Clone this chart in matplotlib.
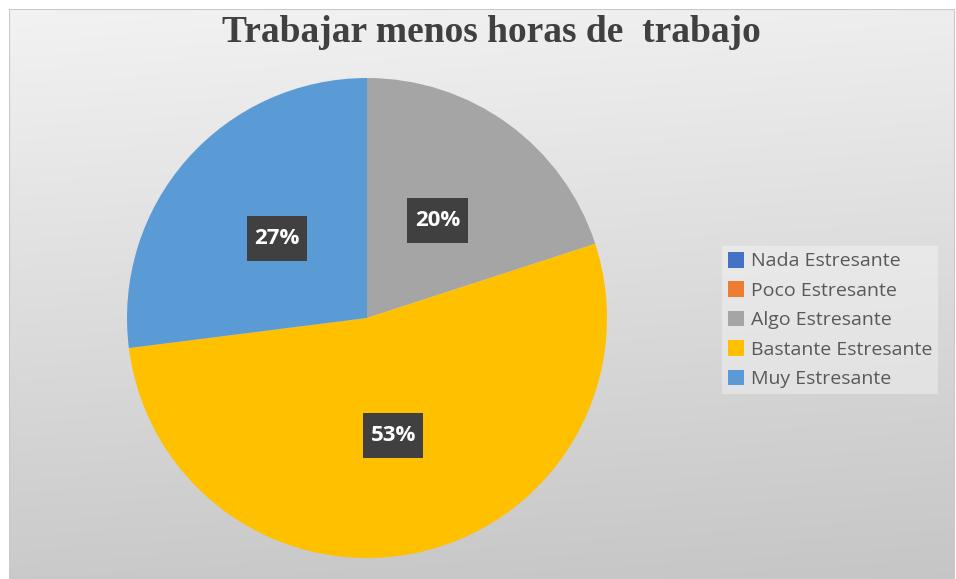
import numpy as np
import matplotlib
matplotlib.use("Agg")
import matplotlib.pyplot as plt
from matplotlib.patches import Rectangle, Patch

title = "Trabajar menos horas de  trabajo"
categories = ["Nada Estresante", "Poco Estresante", "Algo Estresante",
              "Bastante Estresante", "Muy Estresante"]
values = [0, 0, 20, 53, 27]
colors = ["#4472C4", "#ED7D31", "#A5A5A5", "#FFC000", "#5B9BD5"]

W, H = 956, 579
fig = plt.figure(figsize=(W / 100, H / 100), dpi=100)
fig.patch.set_facecolor("white")

# background with gradient
bg = fig.add_axes([9 / W, 0, 946 / W, 570 / H])
bg.set_axis_off()
ny, nx = 200, 300
yy, xx = np.mgrid[0:1:ny * 1j, 0:1:nx * 1j]
t = 0.9 * yy + 0.1 * xx
top = np.array([0.95, 0.95, 0.95])
bot = np.array([0.775, 0.775, 0.775])
img = top[None, None, :] * (1 - t[..., None]) + bot[None, None, :] * t[..., None]
bg.imshow(img, aspect="auto", extent=[0, 1, 0, 1], origin="upper")
bg.set_xlim(0, 1)
bg.set_ylim(0, 1)
bg.add_patch(Rectangle((0, 0), 1, 1, transform=bg.transAxes, fill=False,
                       edgecolor="#c8c8c8", linewidth=1.5))

# pie
ax = fig.add_axes([127 / W, 21 / H, 480 / W, 480 / H])
ax.set_axis_off()
wedges, texts, autotexts = ax.pie(
    values, colors=colors, startangle=90, counterclock=False,
    autopct=lambda p: f"{p:.0f}%" if p > 0.5 else "",
    pctdistance=0.5, radius=1.0,
    wedgeprops=dict(linewidth=0),
)
ax.set_xlim(-1, 1)
ax.set_ylim(-1, 1)
ax.set_aspect("equal")
for at in autotexts:
    if at.get_text():
        at.set_color("white")
        at.set_fontweight("bold")
        at.set_fontsize(16)
        at.set_family("Open Sans")
        at.set_zorder(5)

# dark boxes behind the labels
fig.canvas.draw()
renderer = fig.canvas.get_renderer()
inv = fig.transFigure.inverted()
for at in autotexts:
    if at.get_text():
        bb = at.get_window_extent(renderer)
        cx, cy = (bb.x0 + bb.x1) / 2, (bb.y0 + bb.y1) / 2
        bw, bh = bb.width + 15, 45
        (fx0, fy0) = inv.transform((cx - bw / 2, cy - bh / 2))
        (fx1, fy1) = inv.transform((cx + bw / 2, cy + bh / 2))
        fig.patches.append(Rectangle((fx0, fy0), fx1 - fx0, fy1 - fy0,
                                     transform=fig.transFigure,
                                     facecolor="#404040", edgecolor="none",
                                     zorder=4))
        at.remove()
        fig.text(cx / W, cy / H, at.get_text(), ha="center", va="center",
                 color="white", fontweight="bold", fontsize=16,
                 family="Open Sans", zorder=6)

# title
fig.text(491 / W, 1 - 33 / H, title, ha="center", va="center",
         fontsize=27, fontweight="bold", family="Liberation Serif",
         color="#404040")

# legend
handles = [Patch(facecolor=c, edgecolor="none") for c in colors]
leg = fig.legend(handles, categories, loc="center left",
                 bbox_to_anchor=(722 / W, 1 - 320 / H),
                 frameon=True, fancybox=False,
                 prop={"family": "Open Sans", "size": 14},
                 handlelength=0.85, handleheight=0.85, handletextpad=0.35,
                 labelspacing=0.56, borderpad=0.3, borderaxespad=0)
leg.get_frame().set_facecolor("white")
leg.get_frame().set_alpha(0.35)
leg.get_frame().set_edgecolor("none")
for tx in leg.get_texts():
    tx.set_color("#595959")

fig.savefig("out.png", dpi=100, facecolor=fig.get_facecolor())
